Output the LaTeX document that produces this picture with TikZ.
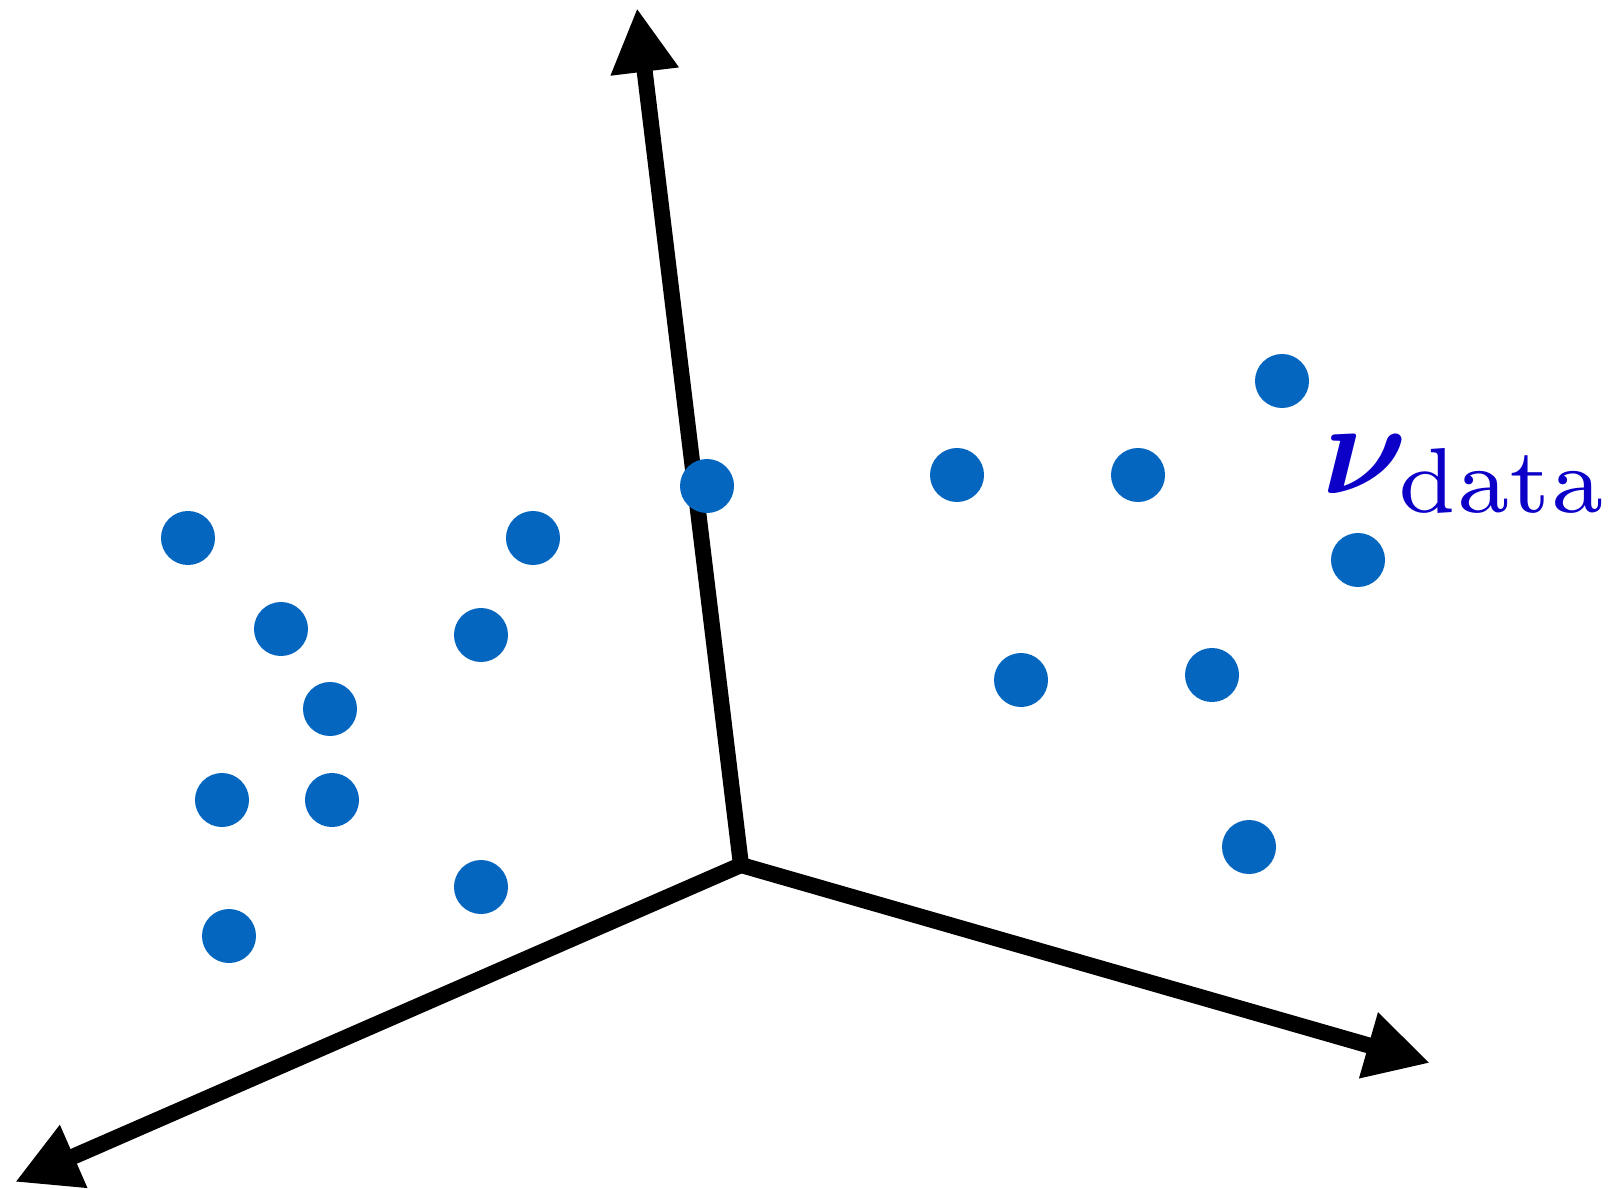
\documentclass[tikz,border=0pt]{standalone}
\usepackage{amsmath}
\usepackage{amssymb}
\usetikzlibrary{arrows.meta,positioning}
\definecolor{dotblue}{RGB}{5,102,192}
\definecolor{labelblue}{RGB}{12,0,200}
\begin{document}
\begin{tikzpicture}[x=0.01cm,y=-0.01cm,
  axis/.style={line width=0.16cm,-{Triangle[length=0.64cm,width=0.64cm]}},
  dot/.style={circle,fill=dotblue,inner sep=0pt,minimum size=0.54cm}]
\useasboundingbox (0,0) rectangle (1616,1188);
% axes
\coordinate (o) at (741,865);
\coordinate (up) at (637,8);
\coordinate (right) at (1430,1063);
\coordinate (left) at (15,1182);
\draw[axis] (o) -- (up);
\draw[axis] (o) -- (right);
\draw[axis] (o) -- (left);
% samples
\foreach \n/\px/\py in {1/188/538, 2/281/629, 3/330/709, 4/222/800, 5/332/800,
  6/229/936, 7/481/635, 8/533/538, 9/481/887, 10/707/486, 11/957/475,
  12/1138/475, 13/1282/381, 14/1358/560, 15/1021/680, 16/1212/675, 17/1249/847}
  \node[dot] (d\n) at (\px,\py) {};
\node[anchor=base west,scale=3.75,text=labelblue,inner sep=0pt] (nu) at (1320,493) {$\boldsymbol{\nu}_{\mkern-1.5mu\mathrm{data}}$};
\end{tikzpicture}
\end{document}
